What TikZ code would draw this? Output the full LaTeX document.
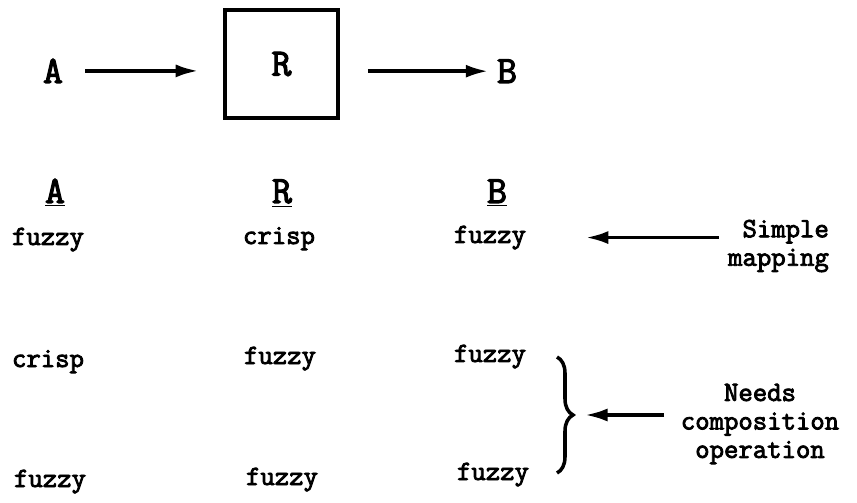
\documentclass[tikz,border=0pt]{standalone}
\usepackage{fontspec}
\newfontfamily\typer[FakeBold=3]{Latin Modern Mono}
\usetikzlibrary{arrows.meta,decorations.pathreplacing}

\tikzset{
  word/.style={font=\fontsize{15.9}{16}\selectfont\typer, inner sep=2pt, anchor=base},
  letter/.style={font=\fontsize{22}{22}\selectfont\typer, inner sep=2pt, anchor=base},
  note/.style={font=\fontsize{15.9}{16.2}\selectfont\typer, inner sep=0.15cm},
}

\begin{document}
\begin{tikzpicture}[>={Latex[length=4.5mm,width=2.6mm]}, line width=2pt]
    \useasboundingbox (0,0) rectangle (17.14,10.04);

    \node[letter] (A) at (1.06,8.38) {A};
    \node[draw, minimum width=2.26cm, minimum height=2.16cm,
          font=\fontsize{22}{22}\selectfont\typer] (R) at (5.63,8.76) {R};
    \node[letter] (B) at (10.14,8.38) {B};

    \draw[->, shorten <=0.34cm, shorten >=0.5cm] (A) -- (A -| R.west);
    \draw[->, shorten <=0.56cm, shorten >=0.07cm] (R.east |- B) -- (B);

    \node[letter] (hA) at (1.10,5.98) {\underline{A}};
    \node[letter] (hR) at (5.64,5.98) {\underline{R}};
    \node[letter] (hB) at (9.94,5.98) {\underline{B}};

    \node[word] (a1) at (0.96,5.14) {fuzzy};
    \node[word] (r1) at (5.58,5.16) {crisp};
    \node[word] (b1) at (9.80,5.18) {fuzzy};

    \node[word] (a2) at (0.96,2.70) {crisp};
    \node[word] (r2) at (5.60,2.76) {fuzzy};
    \node[word] (b2) at (9.80,2.80) {fuzzy};

    \node[word] (a3) at (1.00,0.30) {fuzzy};
    \node[word] (r3) at (5.64,0.34) {fuzzy};
    \node[word] (b3) at (9.86,0.44) {fuzzy};

    \node[note, align=right] (simple) at (15.57,5.12) {Simple\\mapping};
    \node[note, align=center] (needs) at (15.20,1.56) {Needs\\composition\\operation};

    \draw[->, shorten >=1.09cm] (simple.west |- b1.center) -- (b1.east);

    \coordinate (top) at (11.14,2.90);
    \coordinate (bot) at (11.14,0.58);
    \coordinate (tip) at (11.46,1.74);
    \draw[decorate, decoration={brace, amplitude=0.32cm}] (top) -- (bot);
    \draw[->, shorten <=0.15cm, shorten >=0.24cm] (needs.west |- tip) -- (tip);
\end{tikzpicture}
\end{document}
